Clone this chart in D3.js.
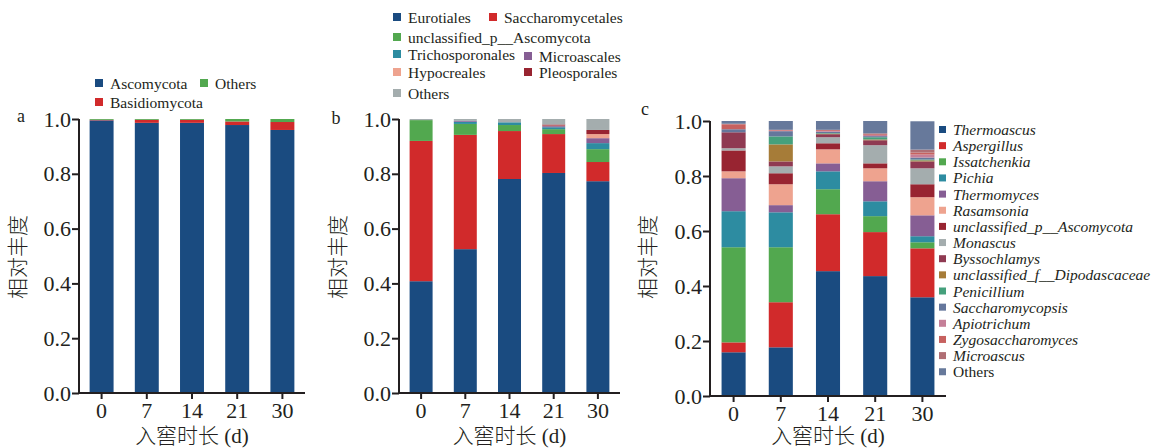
<!DOCTYPE html>
<html>
<head>
<meta charset="utf-8">
<script src="https://cdn.jsdelivr.net/npm/d3@7"></script>
<style>
  body { margin: 0; background: #fff; }
</style>
</head>
<body>
<div id="chart"></div>
<script>

// sampling days (x categories)
const days = ["0", "7", "14", "21", "30"];
const yTicks = [0, 0.2, 0.4, 0.6, 0.8, 1.0];

// panel a - phylum
const phylumNames = ["Ascomycota", "Basidiomycota", "Others"];
const ascomycota = [0.995, 0.986, 0.986, 0.978, 0.960];
const basidiomycota = [0.002, 0.011, 0.011, 0.013, 0.029];
const phylumOthers = [0.003, 0.003, 0.003, 0.009, 0.011];

// panel b - order
const orderNames = ["Eurotiales", "Saccharomycetales", "unclassified_p__Ascomycota",
    "Trichosporonales", "Microascales", "Hypocreales", "Pleosporales", "Others"];
const eurotiales = [0.408, 0.525, 0.781, 0.803, 0.773];
const saccharomycetales = [0.512, 0.417, 0.175, 0.142, 0.070];
const unclassifiedPAscoOrder = [0.076, 0.040, 0.022, 0.018, 0.047];
const trichosporonales = [0, 0.008, 0.010, 0.007, 0.022];
const microascales = [0, 0.003, 0, 0.004, 0.018];
const hypocreales = [0, 0, 0, 0.002, 0.015];
const pleosporales = [0, 0, 0, 0.004, 0.015];
const orderOthers = [0.004, 0.007, 0.012, 0.020, 0.040];

// panel c - genus
const genusNames = ["Thermoascus", "Aspergillus", "Issatchenkia", "Pichia", "Thermomyces",
    "Rasamsonia", "unclassified_p__Ascomycota", "Monascus", "Byssochlamys",
    "unclassified_f__Dipodascaceae", "Penicillium", "Saccharomycopsis", "Apiotrichum",
    "Zygosaccharomyces", "Microascus", "Others"];
const thermoascus = [0.159, 0.177, 0.454, 0.436, 0.359];
const aspergillus = [0.036, 0.164, 0.207, 0.160, 0.178];
const issatchenkia = [0.346, 0.200, 0.091, 0.058, 0.022];
const pichia = [0.131, 0.127, 0.065, 0.054, 0.022];
const thermomyces = [0.120, 0.026, 0.029, 0.073, 0.076];
const rasamsonia = [0.025, 0.076, 0.051, 0.047, 0.066];
const unclassifiedPAsco = [0.076, 0.040, 0.022, 0.018, 0.047];
const monascus = [0.008, 0.025, 0.022, 0.066, 0.058];
const byssochlamys = [0.058, 0.018, 0.011, 0.018, 0.025];
const unclassifiedFDipo = [0, 0.062, 0.002, 0.003, 0.004];
const penicillium = [0, 0.029, 0.002, 0.008, 0.003];
const saccharomycopsis = [0.011, 0.019, 0.005, 0.004, 0.007];
const apiotrichum = [0, 0.002, 0.003, 0.004, 0.011];
const zygosaccharomyces = [0.018, 0.003, 0.003, 0.003, 0.007];
const microascus = [0.002, 0, 0.001, 0.003, 0.011];
const genusOthers = [0.010, 0.032, 0.032, 0.045, 0.103];

const phylumColors = ["#1a4b80", "#d12a2b", "#52a84f"];
const orderColors = ["#1a4b80", "#d12a2b", "#52a84f", "#2d8ca1", "#865e94", "#eea38f", "#982431", "#a4adae"];
const genusColors = ["#1a4b80", "#d12a2b", "#52a84f", "#2d8ca1", "#865e94", "#eea38f", "#982431", "#a4adae",
    "#8f3a52", "#a67c38", "#45a07c", "#65779c", "#c57f98", "#c7615f", "#b06e74", "#67799b"];

const FONT = '"Liberation Serif", "Noto Sans CJK SC", serif';

const svg = d3.select("#chart").append("svg")
    .attr("width", 1157)
    .attr("height", 448);

// build rows for d3.stack
function rows(names, series) {
    return days.map((d, i) => {
        const r = { day: d };
        names.forEach((n, j) => r[n] = series[j][i]);
        return r;
    });
}

function drawPanel(cfg) {
    const x = d3.scaleBand()
        .domain(days)
        .range([cfg.x0, cfg.x1])
        .paddingInner(cfg.pad)
        .paddingOuter(cfg.pad / 2);
    const y = d3.scaleLinear()
        .domain([0, 1])
        .range([cfg.yBottom, cfg.yTop]);

    const color = d3.scaleOrdinal().domain(cfg.names).range(cfg.colors);
    const stack = d3.stack().keys(cfg.names);
    const layers = stack(rows(cfg.names, cfg.series));

    const g = svg.append("g");

    g.selectAll("g.layer")
        .data(layers)
        .enter().append("g")
        .attr("class", "layer")
        .attr("fill", d => color(d.key))
        .selectAll("rect")
        .data(d => d)
        .enter().append("rect")
        .attr("x", d => x(d.data.day))
        .attr("width", x.bandwidth())
        .attr("y", d => y(d[1]))
        .attr("height", d => Math.max(0, y(d[0]) - y(d[1])));

    // axes
    const yAxis = g.append("g")
        .attr("transform", `translate(${cfg.x0},0)`)
        .call(d3.axisLeft(y).tickValues(yTicks).tickFormat(d3.format(".1f"))
            .tickSize(7).tickSizeOuter(0).tickPadding(1));
    const xAxis = g.append("g")
        .attr("transform", `translate(0,${cfg.yBottom})`)
        .call(d3.axisBottom(x).tickSize(6).tickSizeOuter(0).tickPadding(3));

    [yAxis, xAxis].forEach(a => {
        a.selectAll("path, line").attr("stroke", "#231f20").attr("stroke-width", 2);
        a.selectAll("text")
            .style("font-family", FONT)
            .style("font-size", "22px")
            .attr("fill", "#231f20");
    });
    yAxis.select("path").attr("d", `M0,${cfg.yBottom + 1}V${cfg.yTop}`);
    xAxis.select("path").attr("d", `M${cfg.x0 - 1},0H${cfg.x1}`);

    // titles
    g.append("text")
        .attr("x", (cfg.x0 + cfg.x1) / 2)
        .attr("y", 443)
        .attr("text-anchor", "middle")
        .style("font-family", FONT)
        .style("font-size", "21px")
        .style("font-weight", 300)
        .attr("fill", "#231f20")
        .text("入窖时长 (d)");

    g.append("text")
        .attr("transform", `translate(${cfg.yLabelX},257) rotate(-90)`)
        .attr("text-anchor", "middle")
        .attr("dominant-baseline", "central")
        .style("font-family", FONT)
        .style("font-size", "21px")
        .style("font-weight", 300)
        .attr("fill", "#231f20")
        .text("相对丰度");

    g.append("text")
        .attr("x", cfg.letter[0])
        .attr("y", cfg.letter[1])
        .attr("text-anchor", "middle")
        .attr("dominant-baseline", "central")
        .style("font-family", FONT)
        .style("font-size", "18px")
        .attr("fill", "#231f20")
        .text(cfg.letter[2]);

    // legend
    const lg = g.append("g");
    cfg.legend.forEach((it, i) => {
        const name = cfg.names[i];
        lg.append("rect")
            .attr("x", it[0])
            .attr("y", it[1] - cfg.sq / 2)
            .attr("width", cfg.sq)
            .attr("height", cfg.sq)
            .attr("fill", color(name));
        lg.append("text")
            .attr("x", it[0] + cfg.sq + cfg.gap)
            .attr("y", it[1])
            .attr("dominant-baseline", "central")
            .style("font-family", FONT)
            .style("font-size", "15.5px")
            .style("font-style", cfg.italic && name !== "Others" ? "italic" : "normal")
            .attr("fill", "#231f20")
            .text(name);
    });
}

drawPanel({
    names: phylumNames,
    series: [ascomycota, basidiomycota, phylumOthers],
    colors: phylumColors,
    x0: 79, x1: 305, pad: 0.47,
    yTop: 119, yBottom: 393,
    yLabelX: 18,
    letter: [21, 116, "a"],
    sq: 8, gap: 7,
    legend: [[95, 83], [95, 102], [200, 83]]
});

drawPanel({
    names: orderNames,
    series: [eurotiales, saccharomycetales, unclassifiedPAscoOrder, trichosporonales,
        microascales, hypocreales, pleosporales, orderOthers],
    colors: orderColors,
    x0: 399, x1: 620, pad: 0.48,
    yTop: 119, yBottom: 393,
    yLabelX: 338,
    letter: [336, 118, "b"],
    sq: 8, gap: 7,
    legend: [[393, 17], [489, 17], [393, 37], [393, 54], [524, 56], [393, 72], [524, 72], [393, 93]]
});

drawPanel({
    names: genusNames,
    series: [thermoascus, aspergillus, issatchenkia, pichia, thermomyces, rasamsonia,
        unclassifiedPAsco, monascus, byssochlamys, unclassifiedFDipo, penicillium,
        saccharomycopsis, apiotrichum, zygosaccharomyces, microascus, genusOthers],
    colors: genusColors,
    x0: 710, x1: 946, pad: 0.49,
    yTop: 121, yBottom: 396,
    yLabelX: 648,
    letter: [645, 109, "c"],
    sq: 7, gap: 7,
    italic: true,
    legend: genusNames.map((n, i) => [939, 129.5 + i * 16.15])
});

</script>
</body>
</html>
